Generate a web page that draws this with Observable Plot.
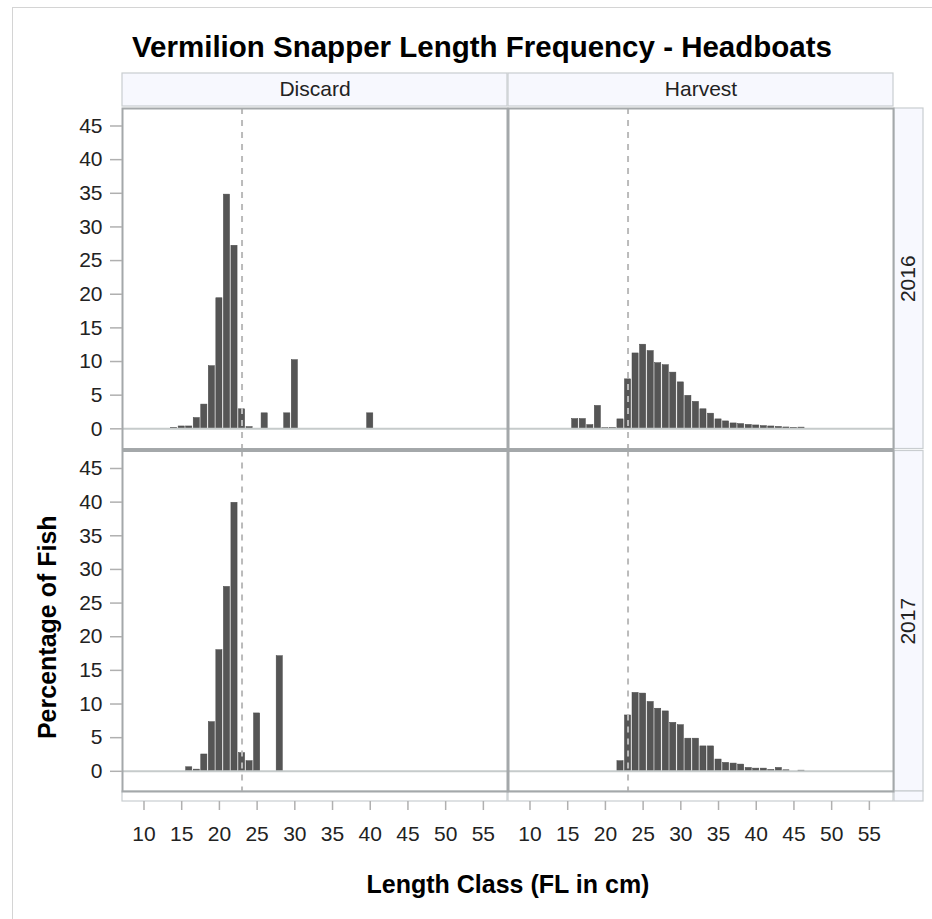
<!DOCTYPE html>
<html><head><meta charset="utf-8">
<script src="https://cdn.jsdelivr.net/npm/d3@7"></script>
<script src="https://cdn.jsdelivr.net/npm/@observablehq/plot@0.6"></script>
<style>
html,body{margin:0;padding:0;background:#fff;}
body{width:932px;height:919px;position:relative;overflow:hidden;font-family:"Liberation Sans",Arial,sans-serif;}
#frame{position:absolute;left:12px;top:7px;width:940px;height:940px;border:1px solid #d4d4d4;box-sizing:border-box;pointer-events:none;}
#title{position:relative;height:66px;box-sizing:border-box;padding-top:32px;padding-left:32px;text-align:center;font-weight:bold;font-size:29.5px;line-height:29px;color:#000;white-space:nowrap;}
#chart{position:relative;}
</style></head>
<body>
<div id="frame"></div>
<div id="title"><span id="tt"></span></div>
<div id="chart"></div>
<script>
// ---- data ----
const types = ["Discard", "Harvest"];
const years = ["2016", "2017"];
const xTicks = [10, 15, 20, 25, 30, 35, 40, 45, 50, 55];
const yTicks = [0, 5, 10, 15, 20, 25, 30, 35, 40, 45];
const refLength = 23;
const titleText = "Vermilion Snapper Length Frequency - Headboats";
const xTitle = "Length Class (FL in cm)";
const yTitle = "Percentage of Fish";

const discard2016Len = [14, 15, 16, 17, 18, 19, 20, 21, 22, 23, 24, 26, 29, 30, 40];
const discard2016Pct = [0.15, 0.35, 0.35, 1.6, 3.6, 9.3, 19.4, 34.8, 27.2, 2.9, 0.25, 2.3, 2.3, 10.2, 2.3];

const harvest2016Len = [16, 17, 18, 19, 20, 21, 22, 23, 24, 25, 26, 27, 28, 29, 30, 31, 32, 33, 34, 35, 36, 37, 38, 39, 40, 41, 42, 43, 44, 45, 46];
const harvest2016Pct = [1.45, 1.45, 0.55, 3.4, 0.1, 0.12, 1.4, 7.35, 11.2, 12.5, 11.55, 9.75, 9.45, 8.35, 6.9, 4.9, 4.0, 2.9, 2.25, 1.4, 1.1, 0.8, 0.7, 0.58, 0.5, 0.4, 0.35, 0.28, 0.2, 0.15, 0.18];

const discard2017Len = [16, 17, 18, 19, 20, 21, 22, 23, 24, 25, 28];
const discard2017Pct = [0.6, 0.25, 2.5, 7.3, 18.0, 27.4, 39.9, 2.7, 1.5, 8.6, 17.1];

const harvest2017Len = [22, 23, 24, 25, 26, 27, 28, 29, 30, 31, 32, 33, 34, 35, 36, 37, 38, 39, 40, 41, 42, 43, 44, 46];
const harvest2017Pct = [1.5, 8.3, 11.65, 11.55, 10.3, 9.3, 8.9, 7.2, 6.85, 4.85, 4.85, 3.7, 3.7, 1.75, 1.25, 1.15, 1.0, 0.5, 0.4, 0.4, 0.2, 0.5, 0.15, 0.1];

// ---- table for the library ----
const series = [
  ["Discard", "2016", discard2016Len, discard2016Pct],
  ["Harvest", "2016", harvest2016Len, harvest2016Pct],
  ["Discard", "2017", discard2017Len, discard2017Pct],
  ["Harvest", "2017", harvest2017Len, harvest2017Pct]
];
const rows = series.flatMap(([type, year, lens, pcts]) =>
  lens.map((len, i) => ({type, year, len, pct: pcts[i]})));

document.getElementById("tt").textContent = titleText;

// ---- layout ----
const W = 932, H = 853;
const mL = 122, mR = 39, mT = 42, mB = 128;
const font = "'Liberation Sans', Arial, sans-serif";
const stripFill = "#f7f8fe", stripStroke = "#c9cdd0";

const plot = Plot.plot({
  width: W, height: H,
  marginLeft: mL, marginRight: mR, marginTop: mT, marginBottom: mB,
  style: {fontFamily: font, background: "transparent", overflow: "visible", color: "#000"},
  fx: {domain: types, paddingInner: 0.0026, paddingOuter: 0, round: false, label: null, axis: null},
  fy: {domain: years, paddingInner: 0.0058, paddingOuter: 0, round: false, label: null, axis: null},
  x: {domain: [7.15, 58.2], label: null},
  y: {domain: [-3, 47.6], label: null},
  marks: [
    Plot.rect(rows, {fx: "type", fy: "year", x1: d => d.len - 0.5, x2: d => d.len + 0.5, y1: 0, y2: "pct",
      fill: "#555555", stroke: "#474747", strokeWidth: 0.5, insetLeft: 0.7, insetRight: 0.7}),
    Plot.ruleY([0], {stroke: "#c6cbcb", strokeWidth: 2}),
    Plot.ruleX([refLength], {stroke: "#bbbbbb", strokeWidth: 2, strokeDasharray: "6,6"}),
    Plot.frame({stroke: "#a4a8aa", strokeWidth: 2}),
    Plot.axisY({anchor: "left", ticks: yTicks, tickSize: 12, tickPadding: 8, fontSize: 21,
      stroke: "#b0b0b0", strokeWidth: 1.5, fill: "#222", label: null}),
    Plot.axisX({anchor: "bottom", ticks: xTicks, tickSize: 9, tickPadding: 16, dy: 10, fontSize: 21,
      stroke: "#b0b0b0", strokeWidth: 1.5, fill: "#222", label: null}),
    Plot.text(types, {fx: d => d, fy: () => years[0], text: d => d, frameAnchor: "top", lineAnchor: "middle",
      textAnchor: "middle", dy: -19, fontSize: 21, fill: "#222"}),
    Plot.text(years, {fy: d => d, fx: () => types[1], text: d => d, frameAnchor: "right", lineAnchor: "middle",
      textAnchor: "middle", dx: 15, rotate: -90, fontSize: 21, fill: "#222"}),
    Plot.text([yTitle], {fx: () => types[0], fy: () => years[1], text: d => d, frameAnchor: "left",
      textAnchor: "middle", lineAnchor: "middle", dx: -75, dy: 6, rotate: -90, fontSize: 25, fontWeight: "bold"}),
    Plot.text([xTitle], {fx: () => types[0], fy: () => years[1], text: d => d, frameAnchor: "bottom-right",
      textAnchor: "middle", lineAnchor: "middle", dx: 0.5, dy: 93, fontSize: 25, fontWeight: "bold"})
  ]
});

document.getElementById("chart").appendChild(plot);

// strip backgrounds drawn from the library's facet scales
const fxs = plot.scale("fx"), fys = plot.scale("fy");
const bw = fxs.bandwidth, bh = fys.bandwidth;
const colX = k => fxs.apply ? fxs.apply(k) : fxs.range[0] + types.indexOf(k) * fxs.step;
const rowY = k => fys.apply ? fys.apply(k) : fys.range[0] + years.indexOf(k) * fys.step;
const svg = d3.select(plot.tagName.toLowerCase() === "svg" ? plot : plot.querySelector("svg"));
const g = svg.insert("g", ":first-child").attr("aria-label", "strips");
const stripRight = W - mR;
const stripW = 29;
types.forEach(t => {
  g.append("rect").attr("x", colX(t)).attr("y", mT - 35).attr("width", bw).attr("height", 33)
    .attr("fill", stripFill).attr("stroke", stripStroke).attr("stroke-width", 1.2);
  g.append("rect").attr("x", colX(t)).attr("y", H - mB).attr("width", bw).attr("height", 10)
    .attr("fill", "#fff").attr("stroke", stripStroke).attr("stroke-width", 1.2);
});
years.forEach(y => {
  g.append("rect").attr("x", stripRight + 1).attr("y", rowY(y)).attr("width", stripW).attr("height", bh)
    .attr("fill", stripFill).attr("stroke", stripStroke).attr("stroke-width", 1.2);
});
g.append("rect").attr("x", stripRight + 1).attr("y", H - mB).attr("width", stripW).attr("height", 10)
  .attr("fill", stripFill).attr("stroke", stripStroke).attr("stroke-width", 1.2);
</script>
</body></html>
